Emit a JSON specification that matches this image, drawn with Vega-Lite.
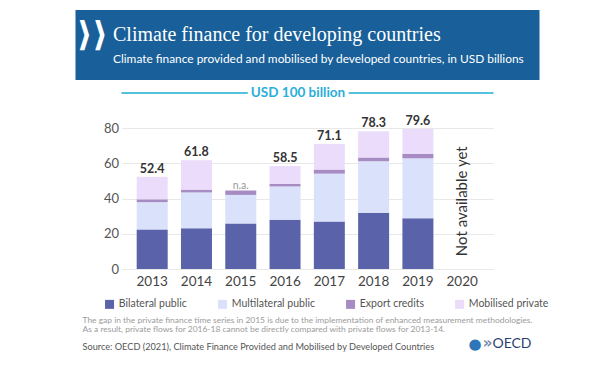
{
  "$schema": "https://vega.github.io/schema/vega-lite/v6.json",
  "padding": {"left": 75.5, "top": 10, "right": 0, "bottom": 0},
  "background": "white",
  "config": {"view": {"stroke": null}, "font": "Lato"},
  "datasets": {
    "series": [
      {"type": "Bilateral public", "rank": 1},
      {"type": "Multilateral public", "rank": 2},
      {"type": "Export credits", "rank": 3},
      {"type": "Mobilised private", "rank": 4}
    ],
    "finance": [
      {"year": "2013", "type": "Bilateral public", "value": 22.5},
      {"year": "2013", "type": "Multilateral public", "value": 15.5},
      {"year": "2013", "type": "Export credits", "value": 1.6},
      {"year": "2013", "type": "Mobilised private", "value": 12.8},
      {"year": "2014", "type": "Bilateral public", "value": 23.1},
      {"year": "2014", "type": "Multilateral public", "value": 20.4},
      {"year": "2014", "type": "Export credits", "value": 1.6},
      {"year": "2014", "type": "Mobilised private", "value": 16.7},
      {"year": "2015", "type": "Bilateral public", "value": 25.9},
      {"year": "2015", "type": "Multilateral public", "value": 16.2},
      {"year": "2015", "type": "Export credits", "value": 2.5},
      {"year": "2016", "type": "Bilateral public", "value": 28.0},
      {"year": "2016", "type": "Multilateral public", "value": 18.9},
      {"year": "2016", "type": "Export credits", "value": 1.5},
      {"year": "2016", "type": "Mobilised private", "value": 10.1},
      {"year": "2017", "type": "Bilateral public", "value": 27.0},
      {"year": "2017", "type": "Multilateral public", "value": 27.2},
      {"year": "2017", "type": "Export credits", "value": 2.3},
      {"year": "2017", "type": "Mobilised private", "value": 14.6},
      {"year": "2018", "type": "Bilateral public", "value": 32.0},
      {"year": "2018", "type": "Multilateral public", "value": 29.2},
      {"year": "2018", "type": "Export credits", "value": 2.2},
      {"year": "2018", "type": "Mobilised private", "value": 14.9},
      {"year": "2019", "type": "Bilateral public", "value": 28.8},
      {"year": "2019", "type": "Multilateral public", "value": 34.1},
      {"year": "2019", "type": "Export credits", "value": 2.6},
      {"year": "2019", "type": "Mobilised private", "value": 14.1}
    ],
    "labels": [
      {"year": "2013", "total": 52.4, "label": "52.4"},
      {"year": "2014", "total": 61.8, "label": "61.8"},
      {"year": "2015", "total": 44.6, "label": "n.a."},
      {"year": "2016", "total": 58.5, "label": "58.5"},
      {"year": "2017", "total": 71.1, "label": "71.1"},
      {"year": "2018", "total": 78.3, "label": "78.3"},
      {"year": "2019", "total": 79.6, "label": "79.6"}
    ]
  },
  "vconcat": [
    {
      "width": 464,
      "height": 70,
      "view": {"fill": "#195f99", "stroke": null},
      "data": {"values": [{}]},
      "title": {
        "text": "Climate finance for developing countries",
        "subtitle": "Climate finance provided and mobilised by developed countries, in USD billions",
        "font": "Liberation Serif",
        "fontSize": 20,
        "fontWeight": "normal",
        "color": "white",
        "subtitleFont": "Lato",
        "subtitleFontSize": 11.9,
        "subtitleColor": "white",
        "subtitlePadding": 9,
        "anchor": "start",
        "frame": "group",
        "orient": "top",
        "offset": -55,
        "dx": 37.5
      },
      "mark": {"type": "text", "text": "⟩⟩", "color": "white", "fontSize": 34, "fontWeight": "bold", "font": "DejaVu Sans", "dx": -215, "dy": -9},
      "encoding": {}
    },
    {
      "width": 372,
      "height": 176,
      "view": {"stroke": null},
      "layer": [
        {
          "data": {"values": [{}]},
          "mark": {"type": "rule", "color": "#55c2df", "strokeWidth": 2},
          "encoding": {"y": {"datum": 100}}
        },
        {
          "data": {"values": [{}]},
          "mark": {"type": "text", "text": "USD 100 billion", "font": "Lato", "fontSize": 13.5, "fontWeight": "bold", "color": "white", "stroke": "white", "strokeWidth": 8, "dx": -9.5, "baseline": "middle"},
          "encoding": {"y": {"datum": 100}}
        },
        {
          "data": {"values": [{}]},
          "mark": {"type": "text", "text": "USD 100 billion", "font": "Lato", "fontSize": 13.5, "fontWeight": "bold", "color": "#2aaed8", "dx": -9.5, "baseline": "middle"},
          "encoding": {"y": {"datum": 100}}
        },
        {
          "data": {"name": "finance"},
          "transform": [{"lookup": "type", "from": {"data": {"name": "series"}, "key": "type", "fields": ["rank"]}}],
          "mark": {"type": "bar"},
          "encoding": {
            "x": {
              "field": "year",
              "type": "nominal",
              "scale": {"domain": ["2013", "2014", "2015", "2016", "2017", "2018", "2019", "2020"], "paddingInner": 0.3, "paddingOuter": 0.35, "align": 0.49},
              "axis": {"title": null, "domain": false, "ticks": false, "grid": false, "labelAngle": 0, "labelFontSize": 13.5, "labelColor": "#444", "labelPadding": 5, "labelFont": "Lato"}
            },
            "y": {
              "field": "value",
              "type": "quantitative",
              "stack": "zero",
              "scale": {"domain": [0, 100], "nice": false},
              "axis": {"title": null, "values": [0, 20, 40, 60, 80], "domain": false, "ticks": false, "grid": true, "gridColor": "#e8e8e8", "gridWidth": 1, "labelFontSize": 13, "labelColor": "#555", "labelPadding": 3, "labelFont": "Lato"}
            },
            "order": {"field": "rank", "type": "quantitative", "sort": "ascending"},
            "color": {
              "field": "type",
              "type": "nominal",
              "scale": {"domain": ["Bilateral public", "Multilateral public", "Export credits", "Mobilised private"], "range": ["#5a63a9", "#dae1fa", "#a78bc3", "#ecdcfb"]},
              "legend": {"title": null, "orient": "none", "legendX": 28.8, "legendY": 289, "direction": "horizontal", "symbolType": "square", "symbolSize": 81, "symbolStrokeWidth": 0, "symbolOpacity": 1, "labelFontSize": 10.5, "labelColor": "#555", "labelFont": "Lato", "columnPadding": 30, "labelOffset": 4, "padding": 0}
            }
          }
        },
        {
          "data": {"name": "labels"},
          "transform": [{"filter": "datum.label != 'n.a.'"}],
          "mark": {"type": "text", "fontWeight": "bold", "fontSize": 12.5, "color": "#333", "baseline": "alphabetic", "dy": -4, "font": "Lato"},
          "encoding": {
            "x": {"field": "year", "type": "nominal"},
            "y": {"field": "total", "type": "quantitative"},
            "text": {"field": "label"}
          }
        },
        {
          "data": {"name": "labels"},
          "transform": [{"filter": "datum.label == 'n.a.'"}],
          "mark": {"type": "text", "fontSize": 10.5, "color": "#999", "baseline": "alphabetic", "dy": -2, "font": "Lato"},
          "encoding": {
            "x": {"field": "year", "type": "nominal"},
            "y": {"field": "total", "type": "quantitative"},
            "text": {"field": "label"}
          }
        },
        {
          "data": {"values": [{}]},
          "mark": {"type": "text", "text": "Not available yet", "angle": 270, "fontSize": 15, "color": "#333", "align": "center", "baseline": "middle", "font": "Lato"},
          "encoding": {"x": {"datum": "2020"}, "y": {"datum": 38.5}}
        }
      ]
    },
    {
      "width": 464,
      "height": 66,
      "view": {"stroke": null},
      "data": {"values": [{}]},
      "title": {
        "text": ["The gap in the private finance time series in 2015 is due to the implementation of enhanced measurement methodologies.", "As a result, private flows for 2016-18 cannot be directly compared with private flows for 2013-14."],
        "subtitle": "Source: OECD (2021), Climate Finance Provided and Mobilised by Developed Countries",
        "font": "Lato",
        "fontSize": 8.45,
        "fontWeight": "normal",
        "color": "#9b9b9b",
        "lineHeight": 9.5,
        "subtitleFont": "Lato",
        "subtitleFontSize": 9.2,
        "subtitleColor": "#555",
        "subtitlePadding": 9,
        "anchor": "start",
        "frame": "group",
        "orient": "top",
        "offset": -70,
        "dx": 7
      },
      "layer": [
        {
          "mark": {"type": "text", "text": "OECD", "align": "right", "baseline": "alphabetic", "fontSize": 14, "font": "Lato", "color": "#2b3f73", "dx": -8},
          "encoding": {"x": {"value": "width"}, "y": {"value": "height"}}
        },
        {
          "mark": {"type": "text", "text": "»", "align": "right", "baseline": "alphabetic", "fontSize": 15, "font": "DejaVu Sans", "fontWeight": "bold", "color": "#7a8aa8", "dx": -47},
          "encoding": {"x": {"value": "width"}, "y": {"value": "height"}}
        },
        {
          "mark": {"type": "text", "text": "●", "align": "right", "baseline": "alphabetic", "fontSize": 15, "font": "DejaVu Sans", "color": "#2f76b8", "dx": -58, "dy": 1},
          "encoding": {"x": {"value": "width"}, "y": {"value": "height"}}
        }
      ]
    }
  ],
  "spacing": 13,
  "center": true,
  "bounds": "flush"
}
